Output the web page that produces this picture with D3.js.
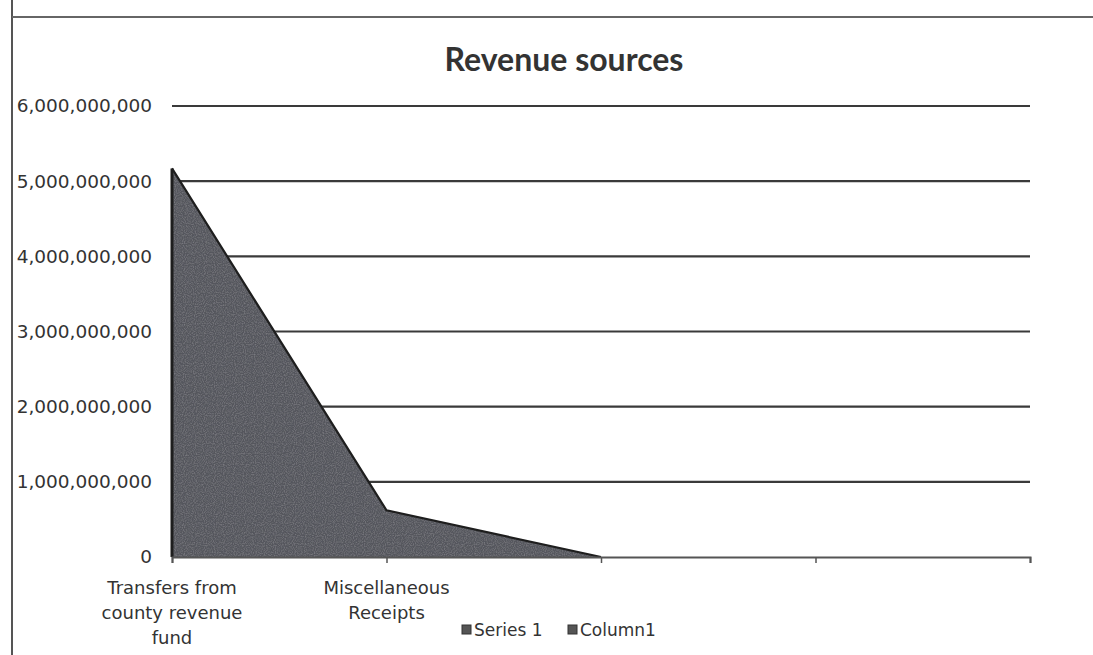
<!DOCTYPE html>
<html><head><meta charset="utf-8">
<script src="https://cdn.jsdelivr.net/npm/d3@7"></script>
<style>body{margin:0;background:#fff}svg{display:block}</style>
</head><body>
<svg id="c" width="1093" height="655"></svg>
<script>
const categories = [["Transfers from","county revenue","fund"],["Miscellaneous","Receipts"],[""],[""],[""]];
const seriesValues = [5170000000, 620000000, 0, 0, 0];
const yTicks = [0,1000000000,2000000000,3000000000,4000000000,5000000000,6000000000];
const legendItems = ["Series 1","Column1"];
const title = "Revenue sources";

const svg = d3.select("#c");
const font = "'DejaVu Sans', sans-serif";
const W=1093,H=655;
const m={left:172,right:1030,top:106,bottom:557};
const x = d3.scalePoint().domain(d3.range(categories.length)).range([m.left,m.right]).padding(0);
const y = d3.scaleLinear().domain([0,6000000000]).range([m.bottom,m.top]);

// frame
svg.append("line").attr("x1",12).attr("x2",12).attr("y1",0).attr("y2",H).attr("stroke","#555").attr("stroke-width",2);
svg.append("line").attr("x1",12).attr("x2",W).attr("y1",17).attr("y2",17).attr("stroke","#666").attr("stroke-width",2);

// title
svg.append("text").attr("x",564).attr("y",71).attr("text-anchor","middle")
  .attr("font-family","Lato, sans-serif").attr("font-weight","bold").attr("font-size",32).attr("fill","#333").text(title);

// gridlines
svg.append("g").selectAll("line").data(yTicks.filter(d=>d>0)).join("line")
  .attr("x1",m.left).attr("x2",m.right).attr("y1",d=>y(d)).attr("y2",d=>y(d))
  .attr("stroke","#3a3a3a").attr("stroke-width",2.2);

// y axis labels
const yAxis = d3.axisLeft(y).tickValues(yTicks).tickFormat(d3.format(",")).tickSize(0).tickPadding(20);
const gy = svg.append("g").attr("transform",`translate(${m.left},0)`).call(yAxis);
gy.select(".domain").remove();
gy.selectAll("text").attr("font-family",font).attr("font-size",18.5).attr("fill","#333");

// speckle filter
const defs = svg.append("defs");
const f = defs.append("filter").attr("id","speck");
f.append("feTurbulence").attr("type","fractalNoise").attr("baseFrequency",0.9).attr("numOctaves",1).attr("result","n");
f.append("feColorMatrix").attr("in","n").attr("type","matrix")
 .attr("values","0 0 0 0 0.2  0 0 0 0 0.2  0 0 0 0 0.22  0 0 0 -2.2 1.3").attr("result","dots");
f.append("feComposite").attr("in","dots").attr("in2","SourceGraphic").attr("operator","in").attr("result","d2");
f.append("feMerge").selectAll("feMergeNode").data(["SourceGraphic","d2"]).join("feMergeNode").attr("in",d=>d);

// area
const area = d3.area().x((d,i)=>x(i)).y0(y(0)).y1(d=>y(d));
const data3 = seriesValues.slice(0,3);
svg.append("path").datum(data3).attr("d",area).attr("fill","#55565d").attr("filter","url(#speck)");
const line = d3.line().x((d,i)=>x(i)).y(d=>y(d));
svg.append("path").datum(data3).attr("d",line).attr("fill","none").attr("stroke","#1e1e1e").attr("stroke-width",2.2);
svg.append("line").attr("x1",m.left).attr("x2",m.left).attr("y1",y(0)).attr("y2",y(seriesValues[0])).attr("stroke","#1e1e1e").attr("stroke-width",3);

// x axis
const xAxis = d3.axisBottom(x).tickSize(6).tickFormat("");
const gx = svg.append("g").attr("transform",`translate(0,${y(0)})`).call(xAxis);
gx.select(".domain").attr("stroke","#555").attr("stroke-width",2);
gx.selectAll(".tick line").attr("stroke","#555").attr("stroke-width",1.5);

// category labels
svg.append("g").selectAll("text").data(categories).join("text")
  .attr("x",(d,i)=>x(i)).attr("y",594).attr("text-anchor","middle")
  .attr("font-family",font).attr("font-size",18).attr("fill","#333")
  .each(function(d){
    d3.select(this).selectAll("tspan").data(d).join("tspan")
      .attr("x",d3.select(this).attr("x")).attr("dy",(t,j)=>j?25:0).text(t=>t);
  });

// legend
const lg = svg.append("g").attr("transform","translate(462,636)");
const li = lg.selectAll("g").data(legendItems).join("g").attr("transform",(d,i)=>`translate(${i*106},0)`);
li.append("rect").attr("x",0).attr("y",-11).attr("width",9).attr("height",9).attr("fill","#555").attr("stroke","#333");
li.append("text").attr("x",12).attr("y",0).attr("font-family",font).attr("font-size",17).attr("fill","#333").text(d=>d);
</script>
</body></html>
